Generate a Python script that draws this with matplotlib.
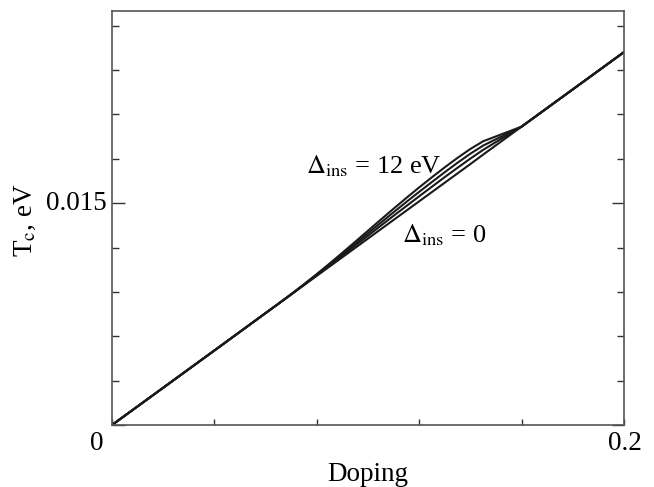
import matplotlib
matplotlib.use("Agg")
import matplotlib.pyplot as plt
from matplotlib.ticker import MultipleLocator

plt.rcParams['font.family'] = ['Liberation Serif', 'DejaVu Serif']
plt.rcParams['mathtext.fontset'] = 'stix'

# values
doping = [0.0, 0.02, 0.04, 0.06, 0.065, 0.07, 0.075, 0.08, 0.085, 0.09, 0.095,
          0.10, 0.105, 0.11, 0.115, 0.12, 0.125, 0.13, 0.135, 0.14, 0.145,
          0.15, 0.155, 0.16, 0.165, 0.18, 0.20]
tc_0 = [0.0, 0.00252, 0.00504, 0.00757, 0.00820, 0.00883, 0.00946, 0.01009, 0.01072, 0.01135, 0.01198,
        0.01261, 0.01324, 0.01387, 0.01450, 0.01513, 0.01576, 0.01639, 0.01702, 0.01765, 0.01829,
        0.01892, 0.01955, 0.02018, 0.02081, 0.02270, 0.02522]
tc_4 = [0.0, 0.00252, 0.00504, 0.00757, 0.00820, 0.00883, 0.00948, 0.01013, 0.01079, 0.01146, 0.01213,
        0.01280, 0.01348, 0.01415, 0.01481, 0.01547, 0.01612, 0.01677, 0.01740, 0.01802, 0.01861,
        0.01914, 0.01966, 0.02018, 0.02081, 0.02270, 0.02522]
tc_8 = [0.0, 0.00252, 0.00504, 0.00757, 0.00820, 0.00884, 0.00950, 0.01017, 0.01086, 0.01155, 0.01226,
        0.01297, 0.01368, 0.01439, 0.01509, 0.01577, 0.01644, 0.01710, 0.01774, 0.01835, 0.01890,
        0.01933, 0.01975, 0.02018, 0.02081, 0.02270, 0.02522]
tc_12 = [0.0, 0.00252, 0.00504, 0.00757, 0.00820, 0.00885, 0.00952, 0.01021, 0.01092, 0.01165, 0.01239,
         0.01314, 0.01389, 0.01463, 0.01536, 0.01607, 0.01676, 0.01743, 0.01807, 0.01867, 0.01919,
         0.01952, 0.01985, 0.02018, 0.02081, 0.02270, 0.02522]

W, H = 654, 487
fig = plt.figure(figsize=(W / 100, H / 100), dpi=100)
ax = fig.add_axes([112 / W, 1 - 425 / H, 512 / W, 414 / H])

for tc in (tc_0, tc_4, tc_8, tc_12):
    ax.plot(doping, tc, color='#1a1a1a', lw=1.5)

ax.set_xlim(0, 0.2)
ax.set_ylim(0, 0.028)

ax.xaxis.set_major_locator(MultipleLocator(0.04))
ax.yaxis.set_major_locator(MultipleLocator(0.015))
ax.yaxis.set_minor_locator(MultipleLocator(0.003))
ax.set_xticklabels([])
ax.set_yticklabels([])
ax.tick_params(axis='x', direction='in', length=4, width=1, color='#333333', top=False)
ax.tick_params(axis='y', which='major', direction='in', length=9, width=1, color='#333333', right=True)
ax.tick_params(axis='y', which='minor', direction='in', length=5, width=1, color='#333333', right=True)
for sp in ax.spines.values():
    sp.set_color('#555555')
    sp.set_linewidth(1.2)


def px(x, y):
    return x / W, 1 - y / H


fs = 19.5
fig.text(*px(97, 443), '0', fontsize=fs, ha='center', va='center')
fig.text(*px(625, 443), '0.2', fontsize=fs, ha='center', va='center')
fig.text(*px(107, 203), '0.015', fontsize=fs, ha='right', va='center')
fig.text(*px(368, 481), 'Doping', fontsize=fs, ha='center', va='baseline')
fig.text(*px(25, 220), 'T$_{\\rm c}$, eV', fontsize=fs, ha='center', va='center', rotation=90)

ax.text(0.0758, 0.01704, r'$\Delta_{\rm ins}$ = 12 eV', fontsize=19, ha='left', va='baseline')
ax.text(0.1133, 0.01238, r'$\Delta_{\rm ins}$ = 0', fontsize=19, ha='left', va='baseline')

fig.savefig('out.png', dpi=100)
